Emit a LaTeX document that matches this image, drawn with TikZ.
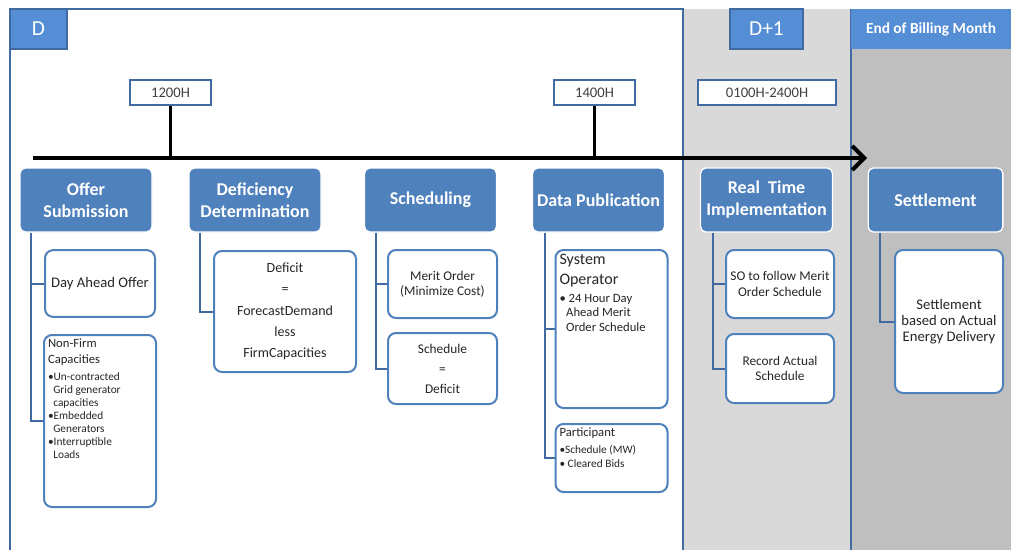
\documentclass[tikz,border=0pt]{standalone}
\usepackage{fontspec}
\setmainfont{Carlito}
\usetikzlibrary{arrows.meta}

\definecolor{stageblue}{RGB}{79,129,189}
\definecolor{tabblue}{RGB}{85,142,213}
\definecolor{edgeblue}{RGB}{65,106,160}
\definecolor{lightpanel}{RGB}{217,217,217}
\definecolor{darkpanel}{RGB}{191,191,191}

\newcommand{\topcell}[3]{\begin{minipage}[c][#1][t]{#2}\raggedright #3\end{minipage}}

\tikzset{every picture/.style={line width=0.75pt}}
\tikzset{
  stage/.style={rectangle, rounded corners=4pt, fill=stageblue, draw=white, line width=1pt,
    text=white, font=\fontsize{13.5}{16.5}\selectfont\bfseries, align=center,
    minimum width=99pt, minimum height=48pt, inner sep=1pt},
  item/.style={rectangle, rounded corners=6pt, fill=white, draw=stageblue, line width=1.5pt,
    align=center, inner sep=2pt, text=black!85},
  clock/.style={rectangle, fill=white, draw=edgeblue, line width=1.5pt,
    font=\fontsize{11}{12}\selectfont, text=black!75, minimum height=18.75pt, inner sep=1pt},
  tab/.style={rectangle, fill=tabblue, draw=edgeblue, line width=1.2pt, text=white,
    font=\fontsize{16}{18}\selectfont, minimum height=30pt, inner sep=1pt},
  link/.style={draw=edgeblue, line width=1.5pt},
}

\begin{document}
\begin{tikzpicture}[x=0.75pt,y=0.75pt,yscale=-1,xscale=1]
\useasboundingbox (0,0) rectangle (1011,550);

% panels
\fill [white] (0,0) rectangle (1011,550);
\fill [lightpanel] (683,9) rectangle (851,550);
\fill [darkpanel] (851,9) rectangle (1011,550);
\draw [edgeblue, line width=1.5pt] (10,550) -- (10,9) -- (683,9) -- (683,550);
\draw [edgeblue, line width=1.5pt] (851,9) -- (851,550);

% panel tabs
\node [tab, minimum width=42.75pt] (dtab) at (38.5,29) {D};
\node [tab, minimum width=54.75pt] (dplustab) at (766.5,29) {D+1};
\node [tab, draw=none, minimum width=120pt, font=\fontsize{11.5}{13}\selectfont\bfseries] (monthtab) at (931,29) {End of Billing Month};

% time marks
\node [clock, minimum width=60.75pt] (t1200) at (170.5,92.5) {1200H};
\node [clock, minimum width=60.75pt] (t1400) at (594.5,92.5) {1400H};
\node [clock, minimum width=103.5pt] (tday) at (767,92.5) {0100H-2400H};

% timeline
\coordinate (tstart) at (33,158);
\coordinate (tend) at (867,158);
\draw [line width=3pt, -{Straight Barb[length=9pt, width=18pt, line width=3pt]}] (tstart) -- (tend);
\draw [line width=2.25pt] (t1200.south) -- (t1200.south |- tstart);
\draw [line width=2.25pt] (t1400.south) -- (t1400.south |- tstart);

% stages
\node [stage] (offer) at (86,200) {Offer\\Submission};
\node [stage] (defic) at (255,200) {Deficiency\\Determination};
\node [stage] (sched) at (430.5,200) {Scheduling};
\node [stage] (datapub) at (598.5,200) {Data Publication};
\node [stage] (realtime) at (766.5,200) {Real\ \ Time\\Implementation};
\node [stage, minimum width=101pt] (settle) at (935.5,200) {Settlement};

% items
\node [item, minimum width=82.5pt, minimum height=50pt, font=\fontsize{11}{13}\selectfont] (dayahead) at (100,283.5) {Day Ahead Offer};
\node [item, minimum width=82.5pt, minimum height=129pt, inner sep=3pt] (nonfirm) at (100,421)
  {\topcell{123pt}{78pt}{{\fontsize{9.5}{11.5}\selectfont Non-Firm\\Capacities\par}\vspace{3pt}
   {\fontsize{8.5}{9.75}\selectfont \textbullet Un-contracted\\\hspace*{4pt}Grid generator\\\hspace*{4pt}capacities\\
   \textbullet Embedded\\\hspace*{4pt}Generators\\\textbullet Interruptible\\\hspace*{4pt}Loads\par}}};
\node [item, minimum width=106.5pt, minimum height=90.75pt, font=\fontsize{10.5}{16}\selectfont] (deficit) at (285,311.5)
  {Deficit\\=\\ForecastDemand\\less\\FirmCapacities};
\node [item, minimum width=81.75pt, minimum height=51pt, font=\fontsize{10}{11.5}\selectfont] (merit) at (442.5,284)
  {Merit Order\\(Minimize Cost)};
\node [item, minimum width=81.75pt, minimum height=53.25pt, font=\fontsize{10}{15}\selectfont] (schedeq) at (442.5,368.5)
  {Schedule\\=\\Deficit};
\node [item, minimum width=81.75pt, minimum height=118.5pt, inner sep=3pt] (sysop) at (611.5,329)
  {\topcell{112pt}{78pt}{{\fontsize{12}{15}\selectfont System\\Operator\par}\vspace{2pt}
   {\fontsize{9.5}{11}\selectfont \textbullet\ 24 Hour Day\\\hspace*{5pt}Ahead Merit\\\hspace*{5pt}Order Schedule\par}}};
\node [item, minimum width=81.75pt, minimum height=51pt, inner sep=3pt] (partic) at (611.5,458)
  {\topcell{45pt}{78pt}{{\fontsize{9.5}{11}\selectfont Participant\par}\vspace{2pt}
   {\fontsize{8.5}{10.5}\selectfont \textbullet Schedule (MW)\\\textbullet\ Cleared Bids\par}}};
\node [item, minimum width=81pt, minimum height=51pt, font=\fontsize{10}{11.5}\selectfont] (sofollow) at (780,284)
  {SO to follow Merit\\Order Schedule};
\node [item, minimum width=81pt, minimum height=51.75pt, font=\fontsize{10}{11.5}\selectfont] (record) at (780,368.5)
  {Record Actual\\Schedule};
\node [item, minimum width=81pt, minimum height=107.25pt, font=\fontsize{11}{12}\selectfont] (settlebox) at (949,321.5)
  {Settlement\\based on Actual\\Energy Delivery};

% connectors
\draw [link] ([xshift=9pt]offer.south west) |- (dayahead.west);
\draw [link] ([xshift=9pt]offer.south west) |- (nonfirm.west);
\draw [link] ([xshift=8.5pt]defic.south west) |- (deficit.west);
\draw [link] ([xshift=9pt]sched.south west) |- (merit.west);
\draw [link] ([xshift=9pt]sched.south west) |- (schedeq.west);
\draw [link] ([xshift=9.5pt]datapub.south west) |- (sysop.west);
\draw [link] ([xshift=9.5pt]datapub.south west) |- (partic.west);
\draw [link] ([xshift=10pt]realtime.south west) |- (sofollow.west);
\draw [link] ([xshift=10pt]realtime.south west) |- (record.west);
\draw [link] ([xshift=9.5pt]settle.south west) |- (settlebox.west);

\end{tikzpicture}
\end{document}
